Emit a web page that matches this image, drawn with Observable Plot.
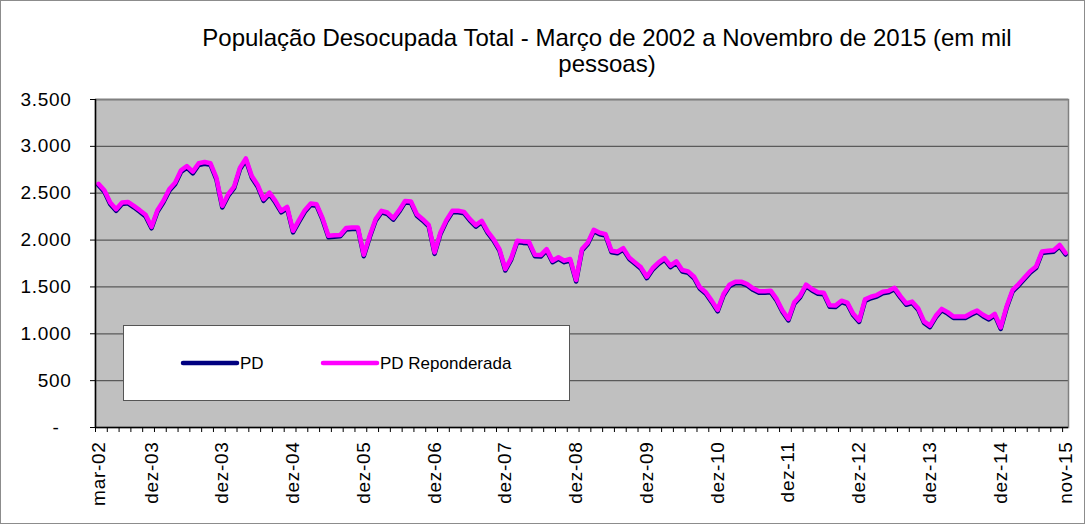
<!DOCTYPE html>
<html>
<head>
<meta charset="utf-8">
<script src="https://cdn.jsdelivr.net/npm/d3@7"></script>
<script src="https://cdn.jsdelivr.net/npm/@observablehq/plot@0.6"></script>
<style>
  html, body { margin: 0; padding: 0; background: #fff; }
  #wrap { position: relative; width: 1085px; height: 524px; overflow: hidden; font-family: "Liberation Sans", Arial, sans-serif; }
  #chart { position: absolute; left: 0; top: 0; }
  #chart svg text { letter-spacing: 0.7px; }
  #title { position: absolute; left: 107px; top: 25px; width: 1000px; text-align: center; font-size: 24px; line-height: 26px; color: #000; }
  #legend { position: absolute; left: 123px; top: 325px; width: 447px; height: 76px; box-sizing: border-box; background: #fff; border: 1px solid #555; }
  #border { position: absolute; left: 0; top: 0; width: 1085px; height: 524px; box-sizing: border-box; border: 1px solid #8c8c8c; pointer-events: none; }
</style>
</head>
<body>
<div id="wrap">
  <div id="chart"></div>
  <div id="title">População Desocupada Total - Março de 2002 a Novembro de 2015 (em mil<br>pessoas)</div>
  <div id="legend"></div>
  <div id="border"></div>
</div>
<script>
// Monthly values, março/2002 (index 0) to novembro/2015 (index 164), in thousands of people
const pdReponderada = [
  2600, 2531, 2400, 2329, 2400, 2407, 2365, 2319, 2269, 2141,
  2319, 2418, 2542, 2613, 2744, 2790, 2730, 2819, 2833, 2819,
  2666, 2365, 2489, 2570, 2773, 2872, 2684, 2588, 2436, 2507,
  2418, 2312, 2354, 2099, 2212, 2319, 2390, 2382, 2234, 2046,
  2052, 2055, 2128, 2135, 2135, 1844, 2046, 2223, 2312, 2294,
  2234, 2319, 2418, 2411, 2276, 2223, 2163, 1869, 2081, 2213,
  2312, 2312, 2301, 2223, 2160, 2206, 2092, 2011, 1904, 1691,
  1808, 1993, 1986, 1982, 1844, 1840, 1904, 1780, 1816, 1780,
  1798, 1574, 1904, 1975, 2110, 2078, 2063, 1886, 1875, 1914,
  1815, 1762, 1709, 1609, 1702, 1762, 1808, 1727, 1773, 1680,
  1666, 1609, 1496, 1443, 1354, 1255, 1425, 1524, 1556, 1556,
  1531, 1485, 1453, 1453, 1460, 1372, 1248, 1159, 1336, 1407,
  1524, 1478, 1443, 1437, 1305, 1301, 1353, 1332, 1213, 1143,
  1367, 1395, 1413, 1448, 1458, 1490, 1402, 1325, 1343, 1273,
  1133, 1087, 1192, 1266, 1231, 1185, 1185, 1185, 1220, 1248,
  1203, 1168, 1213, 1068, 1290, 1465, 1528, 1598, 1668, 1717,
  1878, 1885, 1892, 1948, 1862
];
const pd = [
  2585, 2515, 2383, 2312, 2385, 2392, 2350, 2302, 2252, 2125,
  2301, 2400, 2525, 2596, 2727, 2772, 2712, 2801, 2815, 2802,
  2648, 2347, 2471, 2553, 2755, 2855, 2666, 2570, 2419, 2490,
  2401, 2295, 2337, 2082, 2195, 2302, 2373, 2365, 2217, 2030,
  2036, 2040, 2112, 2119, 2119, 1828, 2030, 2207, 2296, 2278,
  2218, 2303, 2402, 2395, 2260, 2207, 2147, 1853, 2065, 2197,
  2296, 2296, 2285, 2207, 2144, 2190, 2076, 1995, 1888, 1675,
  1792, 1977, 1970, 1966, 1828, 1824, 1888, 1764, 1800, 1764,
  1782, 1558, 1888, 1959, 2094, 2062, 2047, 1870, 1859, 1898,
  1799, 1746, 1693, 1593, 1686, 1746, 1792, 1711, 1757, 1664,
  1650, 1593, 1480, 1427, 1338, 1239, 1409, 1508, 1540, 1540,
  1515, 1469, 1437, 1437, 1444, 1356, 1232, 1143, 1320, 1391,
  1508, 1462, 1427, 1421, 1289, 1285, 1337, 1316, 1197, 1127,
  1351, 1379, 1397, 1432, 1442, 1474, 1386, 1309, 1327, 1257,
  1117, 1071, 1176, 1250, 1215, 1169, 1169, 1169, 1204, 1232,
  1187, 1152, 1197, 1052, 1274, 1449, 1512, 1582, 1652, 1701,
  1862, 1869, 1876, 1932, 1846
];
const seriesNames = ["PD", "PD Reponderada"];
const seriesColors = ["#000080", "#FF00FF"];
const xTickLabels = ["mar-02", "dez-03", "dez-03", "dez-04", "dez-05", "dez-06", "dez-07", "dez-08",
                     "dez-09", "dez-10", "dez-11", "dez-12", "dez-13", "dez-14", "nov-15"];
const xTickLabelIndex = [0, 9, 21, 33, 45, 57, 69, 81, 93, 105, 117, 129, 141, 153, 164];
const yTicks = [0, 500, 1000, 1500, 2000, 2500, 3000, 3500];
const titleText = "População Desocupada Total - Março de 2002 a Novembro de 2015 (em mil pessoas)";

const n = pd.length;
const rowsPD = pd.map((v, i) => ({i, v}));
const rowsRep = pdReponderada.map((v, i) => ({i, v}));
const xTickMarks = d3.range(0, n + 1, 2).map(k => k - 0.5);
const labelRows = xTickLabels.map((t, k) => ({i: xTickLabelIndex[k], t}));

const br = d3.formatLocale({decimal: ",", thousands: ".", grouping: [3], currency: ["", ""]}).format(",.0f");
const yFmt = d => d === 0 ? "-\u00a0\u00a0" : br(d);

const chart = Plot.plot({
  width: 1085,
  height: 524,
  marginTop: 99,
  marginBottom: 97,
  marginLeft: 95,
  marginRight: 17,
  style: {fontFamily: "'Liberation Sans', Arial, sans-serif", background: "transparent", color: "#000", overflow: "visible"},
  x: {type: "linear", domain: [-0.5, n - 0.5], axis: null, label: null},
  y: {domain: [0, 3500], axis: null, label: null},
  marks: [
    Plot.frame({fill: "#C0C0C0", stroke: null}),
    Plot.ruleY(yTicks.slice(1), {stroke: "#5a5a5a", strokeWidth: 1.3}),
    Plot.frame({stroke: "#808080", strokeWidth: 1.5}),
    Plot.line(rowsPD, {x: "i", y: "v", stroke: seriesColors[0], strokeWidth: 4.5, strokeLinejoin: "round"}),
    Plot.line(rowsRep, {x: "i", y: "v", stroke: seriesColors[1], strokeWidth: 4.5, strokeLinejoin: "round"}),
    Plot.ruleX([-0.5], {stroke: "#000", strokeWidth: 1.5}),
    Plot.ruleY([0], {stroke: "#000", strokeWidth: 1.5}),
    Plot.axisY({ticks: yTicks, tickFormat: yFmt, tickSize: 5, tickPadding: 19, fontSize: 19, stroke: "#000", label: null}),
    Plot.axisX({ticks: xTickMarks, tickFormat: () => "", tickSize: 5, stroke: "#000", label: null}),
    Plot.text(labelRows, {x: "i", y: () => 0, text: "t", rotate: -90, textAnchor: "end", lineAnchor: "middle", dy: 14, fontSize: 19, fill: "#000"})
  ]
});
document.getElementById("chart").appendChild(chart);

// Legend
const lg = d3.select("#legend").append("svg").attr("width", 445).attr("height", 74)
  .style("font-family", "'Liberation Sans', Arial, sans-serif");
const items = [{x: 59, tx: 116}, {x: 199, tx: 256}];
seriesNames.forEach((name, k) => {
  lg.append("line").attr("x1", items[k].x).attr("x2", items[k].x + 54).attr("y1", 37).attr("y2", 37)
    .attr("stroke", seriesColors[k]).attr("stroke-width", 4.5).attr("stroke-linecap", "round");
  lg.append("text").attr("x", items[k].tx).attr("y", 37).attr("dy", "0.35em")
    .attr("font-size", 17).attr("fill", "#000").text(name);
});
</script>
</body>
</html>
